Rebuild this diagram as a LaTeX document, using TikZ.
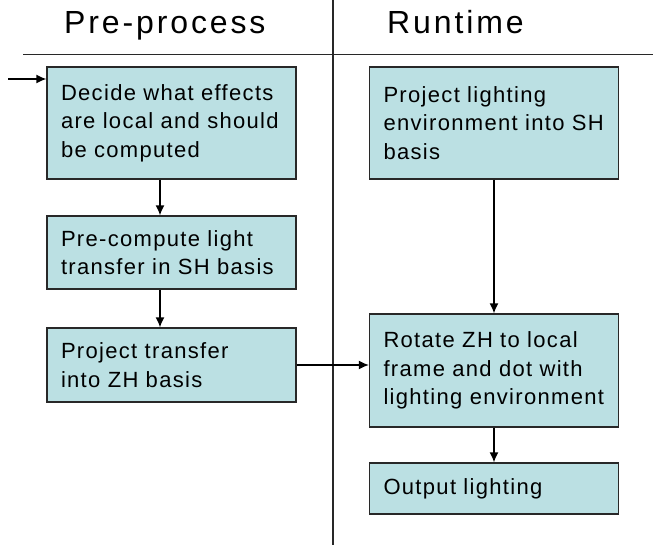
\documentclass[tikz,border=0pt]{standalone}
\usepackage{fontspec}
\setmainfont{Liberation Sans}[LetterSpace=6]
\newfontfamily\hdrfont{Liberation Sans}[LetterSpace=9]
\usetikzlibrary{arrows.meta,calc}
\definecolor{boxfill}{RGB}{187,224,227}
\definecolor{linegray}{RGB}{40,40,40}
\begin{document}
\begin{tikzpicture}[x=1pt,y=-1pt,
  procbox/.style={draw=linegray, line width=1.3pt, fill=boxfill, minimum width=249pt,
    text width=221pt, inner xsep=14pt, inner ysep=0pt, align=left,
    font=\fontsize{22}{28.5}\selectfont, anchor=center},
  hdr/.style={font=\hdrfont\fontsize{32}{35}\selectfont, anchor=base west, inner sep=0pt},
  sep/.style={draw=linegray, line width=1.4pt},
  flow/.style={draw=black, line width=1.4pt, -{Latex[length=10pt,width=9pt]}}]
\useasboundingbox (0,0) rectangle (653,545);
% separators
\coordinate (hl) at (23,54.5);
\coordinate (hr) at (653,54.5);
\coordinate (vt) at (333,0);
\coordinate (vb) at (333,545);
\draw[sep] (hl) -- (hr);
\draw[sep] (vt) -- (vb);
% headers
\node[hdr] (h1) at (64,33.3) {Pre-process};
\node[hdr] (h2) at (387,33.3) {Runtime};
% boxes
\node[procbox, minimum height=112pt] (b1) at (171.5,123) {Decide what effects\\are local and should\\be computed};
\node[procbox, minimum height=73pt] (b2) at (171.5,252.5) {Pre-compute light\\transfer in SH basis};
\node[procbox, minimum height=74pt] (b3) at (171.5,365) {Project transfer\\into ZH basis};
\node[procbox, minimum height=112pt] (r1) at (494,123) {Project lighting\\\mbox{environment into SH}\\basis};
\node[procbox, minimum height=113pt] (r2) at (494,370.5) {Rotate ZH to local\\frame and dot with\\\mbox{lighting environment}};
\node[procbox, minimum height=51pt] (r3) at (494,488.5) {Output lighting};
% connectors
\coordinate (in) at (8,79);
\draw[flow] (in) -- (b1.west |- in);
\draw[flow] ([xshift=-11.5pt]b1.south) -- ([xshift=-11.5pt]b2.north);
\draw[flow] ([xshift=-11.5pt]b2.south) -- ([xshift=-11.5pt]b3.north);
\draw[flow] (b3.east) -- (r2.west |- b3.east);
\draw[flow] (r1.south) -- (r2.north);
\draw[flow] (r2.south) -- (r3.north);
\end{tikzpicture}
\end{document}
